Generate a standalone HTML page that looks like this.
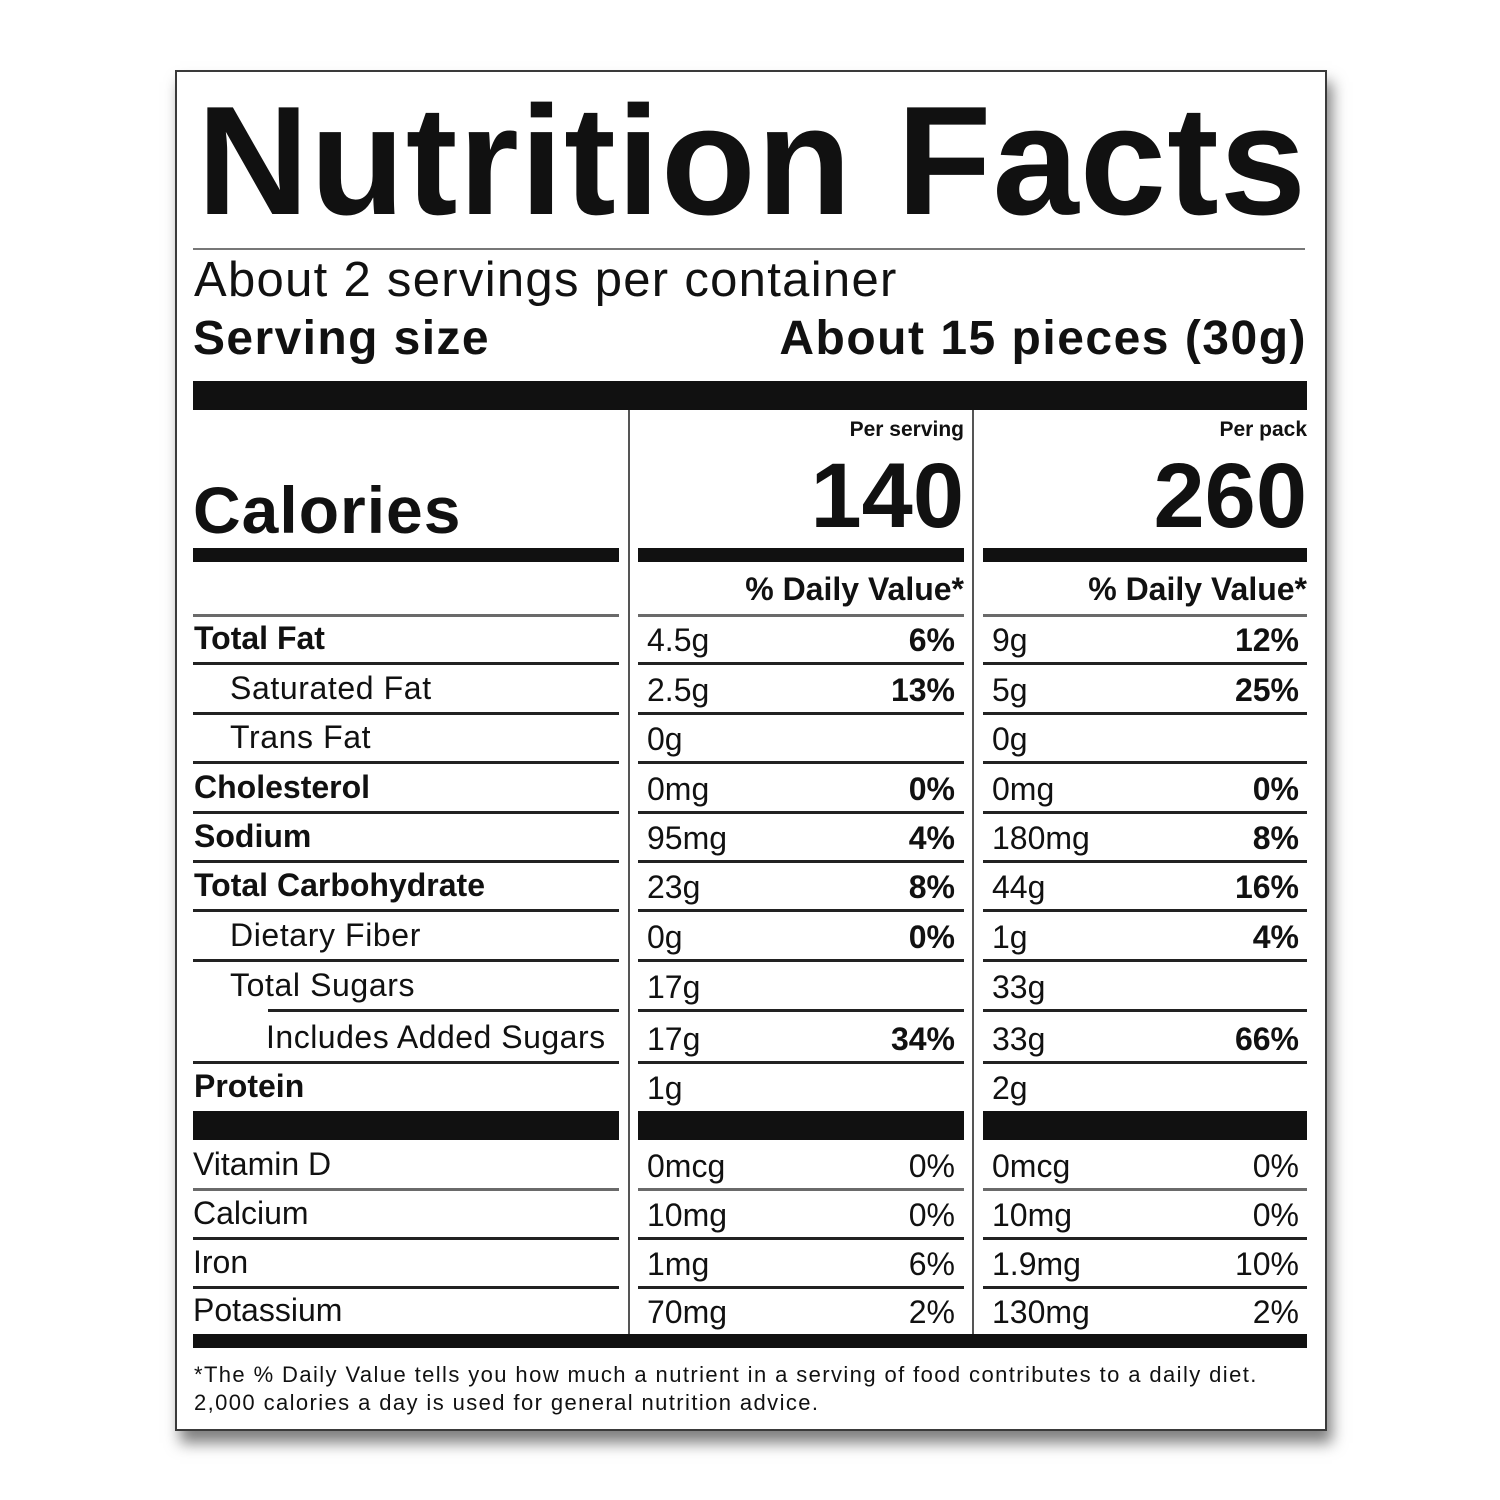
<!DOCTYPE html>
<html>
<head>
<meta charset="utf-8">
<style>
  html, body { margin:0; padding:0; }
  body { width:1500px; height:1500px; background:#fff; position:relative; overflow:hidden;
         font-family:"Liberation Sans", Arial, sans-serif; color:#111; }
  .box { position:absolute; left:175px; top:70px; width:1148px; height:1357px;
         border:2px solid #3a3a3a; background:#fff;
         box-shadow: 5px 12px 14px rgba(0,0,0,0.5); }
  .t { position:absolute; white-space:nowrap; line-height:1; }
  .b { font-weight:bold; }
  .r { text-align:right; }
  .bar { position:absolute; background:#111; }
  .ln { position:absolute; height:3px; background:#222; }
  .lg { position:absolute; height:3px; background:#6a6a6a; }
  .vd { position:absolute; width:2px; background:#555; }
  .d { font-size:32px; }
</style>
</head>
<body>
<div class="box"></div>

<!-- Title -->
<div class="t b" style="left:197px;top:83px;font-size:155px;letter-spacing:1.1px;">Nutrition Facts</div>
<div class="lg" style="left:193px;top:248px;width:1112px;height:2px;background:#777;"></div>

<div class="t" style="left:194px;top:256px;font-size:49px;letter-spacing:1.3px;">About 2 servings per container</div>
<div class="t b" style="left:193px;top:315px;font-size:48px;letter-spacing:1.4px;">Serving size</div>
<div class="t b r" style="left:700px;width:607px;top:315px;font-size:48px;letter-spacing:1.5px;">About 15 pieces (30g)</div>

<!-- Thick bar -->
<div class="bar" style="left:193px;top:381px;width:1114px;height:29px;"></div>

<!-- vertical dividers -->
<div class="vd" style="left:628px;top:410px;height:925px;"></div>
<div class="vd" style="left:972px;top:410px;height:925px;"></div>

<!-- Calories -->
<div class="t b" style="left:193px;top:477px;font-size:66px;letter-spacing:1px;">Calories</div>
<div class="t b r" style="left:640px;width:324px;top:419px;font-size:21px;">Per serving</div>
<div class="t b r" style="left:984px;width:323px;top:419px;font-size:21px;">Per pack</div>
<div class="t b r" style="left:640px;width:324px;top:450px;font-size:92px;">140</div>
<div class="t b r" style="left:984px;width:323px;top:450px;font-size:92px;">260</div>

<div class="bar" style="left:193px;top:548px;width:426px;height:14px;"></div>
<div class="bar" style="left:638px;top:548px;width:326px;height:14px;"></div>
<div class="bar" style="left:983px;top:548px;width:324px;height:14px;"></div>

<div class="t b r" style="left:640px;width:324px;top:573px;font-size:32px;">% Daily Value*</div>
<div class="t b r" style="left:984px;width:323px;top:573px;font-size:32px;">% Daily Value*</div>

<div class="lg" style="left:193px;top:614px;width:426px;"></div>
<div class="lg" style="left:638px;top:614px;width:326px;"></div>
<div class="lg" style="left:983px;top:614px;width:324px;"></div>

<!-- Total Fat -->
<div class="t b d" style="left:194px;top:622px;">Total Fat</div>
<div class="t d" style="left:647px;top:624px;">4.5g</div>
<div class="t b d r" style="left:700px;width:255px;top:624px;">6%</div>
<div class="t d" style="left:992px;top:624px;">9g</div>
<div class="t b d r" style="left:1040px;width:259px;top:624px;">12%</div>
<div class="ln" style="left:193px;top:662px;width:426px;"></div>
<div class="ln" style="left:638px;top:662px;width:326px;"></div>
<div class="ln" style="left:983px;top:662px;width:324px;"></div>

<!-- Saturated Fat -->
<div class="t d" style="left:230px;top:672px;letter-spacing:0.6px;">Saturated Fat</div>
<div class="t d" style="left:647px;top:674px;">2.5g</div>
<div class="t b d r" style="left:700px;width:255px;top:674px;">13%</div>
<div class="t d" style="left:992px;top:674px;">5g</div>
<div class="t b d r" style="left:1040px;width:259px;top:674px;">25%</div>
<div class="ln" style="left:193px;top:712px;width:426px;"></div>
<div class="ln" style="left:638px;top:712px;width:326px;"></div>
<div class="ln" style="left:983px;top:712px;width:324px;"></div>

<!-- Trans Fat -->
<div class="t d" style="left:230px;top:721px;letter-spacing:0.6px;">Trans Fat</div>
<div class="t d" style="left:647px;top:723px;">0g</div>
<div class="t d" style="left:992px;top:723px;">0g</div>
<div class="ln" style="left:193px;top:761px;width:426px;"></div>
<div class="ln" style="left:638px;top:761px;width:326px;"></div>
<div class="ln" style="left:983px;top:761px;width:324px;"></div>

<!-- Cholesterol -->
<div class="t b d" style="left:194px;top:771px;">Cholesterol</div>
<div class="t d" style="left:647px;top:773px;">0mg</div>
<div class="t b d r" style="left:700px;width:255px;top:773px;">0%</div>
<div class="t d" style="left:992px;top:773px;">0mg</div>
<div class="t b d r" style="left:1040px;width:259px;top:773px;">0%</div>
<div class="ln" style="left:193px;top:811px;width:426px;"></div>
<div class="ln" style="left:638px;top:811px;width:326px;"></div>
<div class="ln" style="left:983px;top:811px;width:324px;"></div>

<!-- Sodium -->
<div class="t b d" style="left:194px;top:820px;">Sodium</div>
<div class="t d" style="left:647px;top:822px;">95mg</div>
<div class="t b d r" style="left:700px;width:255px;top:822px;">4%</div>
<div class="t d" style="left:992px;top:822px;">180mg</div>
<div class="t b d r" style="left:1040px;width:259px;top:822px;">8%</div>
<div class="ln" style="left:193px;top:860px;width:426px;"></div>
<div class="ln" style="left:638px;top:860px;width:326px;"></div>
<div class="ln" style="left:983px;top:860px;width:324px;"></div>

<!-- Total Carbohydrate -->
<div class="t b d" style="left:194px;top:869px;">Total Carbohydrate</div>
<div class="t d" style="left:647px;top:871px;">23g</div>
<div class="t b d r" style="left:700px;width:255px;top:871px;">8%</div>
<div class="t d" style="left:992px;top:871px;">44g</div>
<div class="t b d r" style="left:1040px;width:259px;top:871px;">16%</div>
<div class="ln" style="left:193px;top:909px;width:426px;"></div>
<div class="ln" style="left:638px;top:909px;width:326px;"></div>
<div class="ln" style="left:983px;top:909px;width:324px;"></div>

<!-- Dietary Fiber -->
<div class="t d" style="left:230px;top:919px;letter-spacing:0.6px;">Dietary Fiber</div>
<div class="t d" style="left:647px;top:921px;">0g</div>
<div class="t b d r" style="left:700px;width:255px;top:921px;">0%</div>
<div class="t d" style="left:992px;top:921px;">1g</div>
<div class="t b d r" style="left:1040px;width:259px;top:921px;">4%</div>
<div class="ln" style="left:193px;top:959px;width:426px;"></div>
<div class="ln" style="left:638px;top:959px;width:326px;"></div>
<div class="ln" style="left:983px;top:959px;width:324px;"></div>

<!-- Total Sugars -->
<div class="t d" style="left:230px;top:969px;letter-spacing:0.6px;">Total Sugars</div>
<div class="t d" style="left:647px;top:971px;">17g</div>
<div class="t d" style="left:992px;top:971px;">33g</div>
<div class="ln" style="left:268px;top:1009px;width:351px;"></div>
<div class="ln" style="left:638px;top:1009px;width:326px;"></div>
<div class="ln" style="left:983px;top:1009px;width:324px;"></div>

<!-- Includes Added Sugars -->
<div class="t d" style="left:266px;top:1021px;letter-spacing:0.5px;">Includes Added Sugars</div>
<div class="t d" style="left:647px;top:1023px;">17g</div>
<div class="t b d r" style="left:700px;width:255px;top:1023px;">34%</div>
<div class="t d" style="left:992px;top:1023px;">33g</div>
<div class="t b d r" style="left:1040px;width:259px;top:1023px;">66%</div>
<div class="ln" style="left:193px;top:1061px;width:426px;"></div>
<div class="ln" style="left:638px;top:1061px;width:326px;"></div>
<div class="ln" style="left:983px;top:1061px;width:324px;"></div>

<!-- Protein -->
<div class="t b d" style="left:194px;top:1070px;">Protein</div>
<div class="t d" style="left:647px;top:1072px;">1g</div>
<div class="t d" style="left:992px;top:1072px;">2g</div>

<div class="bar" style="left:193px;top:1111px;width:426px;height:29px;"></div>
<div class="bar" style="left:638px;top:1111px;width:326px;height:29px;"></div>
<div class="bar" style="left:983px;top:1111px;width:324px;height:29px;"></div>

<!-- Vitamin D -->
<div class="t d" style="left:193px;top:1148px;">Vitamin D</div>
<div class="t d" style="left:647px;top:1150px;">0mcg</div>
<div class="t d r" style="left:700px;width:255px;top:1150px;">0%</div>
<div class="t d" style="left:992px;top:1150px;">0mcg</div>
<div class="t d r" style="left:1040px;width:259px;top:1150px;">0%</div>
<div class="lg" style="left:193px;top:1188px;width:426px;"></div>
<div class="lg" style="left:638px;top:1188px;width:326px;"></div>
<div class="lg" style="left:983px;top:1188px;width:324px;"></div>

<!-- Calcium -->
<div class="t d" style="left:193px;top:1197px;">Calcium</div>
<div class="t d" style="left:647px;top:1199px;">10mg</div>
<div class="t d r" style="left:700px;width:255px;top:1199px;">0%</div>
<div class="t d" style="left:992px;top:1199px;">10mg</div>
<div class="t d r" style="left:1040px;width:259px;top:1199px;">0%</div>
<div class="ln" style="left:193px;top:1237px;width:426px;"></div>
<div class="ln" style="left:638px;top:1237px;width:326px;"></div>
<div class="ln" style="left:983px;top:1237px;width:324px;"></div>

<!-- Iron -->
<div class="t d" style="left:193px;top:1246px;">Iron</div>
<div class="t d" style="left:647px;top:1248px;">1mg</div>
<div class="t d r" style="left:700px;width:255px;top:1248px;">6%</div>
<div class="t d" style="left:992px;top:1248px;">1.9mg</div>
<div class="t d r" style="left:1040px;width:259px;top:1248px;">10%</div>
<div class="ln" style="left:193px;top:1286px;width:426px;"></div>
<div class="ln" style="left:638px;top:1286px;width:326px;"></div>
<div class="ln" style="left:983px;top:1286px;width:324px;"></div>

<!-- Potassium -->
<div class="t d" style="left:193px;top:1294px;">Potassium</div>
<div class="t d" style="left:647px;top:1296px;">70mg</div>
<div class="t d r" style="left:700px;width:255px;top:1296px;">2%</div>
<div class="t d" style="left:992px;top:1296px;">130mg</div>
<div class="t d r" style="left:1040px;width:259px;top:1296px;">2%</div>

<!-- bottom bar -->
<div class="bar" style="left:193px;top:1334px;width:1114px;height:14px;"></div>

<!-- Footnote -->
<div class="t" style="left:194px;top:1364px;font-size:22px;letter-spacing:1.4px;">*The % Daily Value tells you how much a nutrient in a serving of food contributes to a daily diet.</div>
<div class="t" style="left:194px;top:1392px;font-size:22px;letter-spacing:1.4px;">2,000 calories a day is used for general nutrition advice.</div>

</body>
</html>
